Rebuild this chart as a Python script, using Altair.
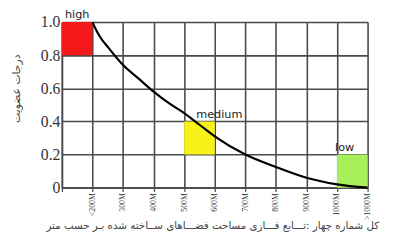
import json
import altair as alt
import pandas as pd

# membership curve (x in class units: 1 = <200M ... 10 = >1000M)
curve_x = [1.0, 1.1, 1.25, 1.5, 2.0, 2.5, 3.0, 3.5, 4.0, 4.5, 5.0, 6.0, 7.0, 8.0, 9.0, 10.0]
curve_y = [1.0, 0.96, 0.91, 0.85, 0.74, 0.66, 0.58, 0.51, 0.45, 0.38, 0.31, 0.20, 0.125, 0.06, 0.02, 0.0]

# coloured class boxes
box_names = ["high", "medium", "low"]
box_x1 = [0, 4, 9]
box_x2 = [1, 5, 10]
box_y1 = [0.8, 0.2, 0.0]
box_y2 = [1.0, 0.4, 0.2]
box_colors = ["#f41a1a", "#f8f21a", "#a8ef5c"]

# label anchors (data units)
label_x = [0.5, 5.15, 9.25]
label_y = [1.0, 0.4, 0.2]

x_tick_values = list(range(0, 11))
x_tick_labels = ["", "<200M", "300M", "400M", "500M", "600M", "700M", "800M", "900M", "1000M", ">1000M"]
y_tick_values = [0, 0.2, 0.4, 0.6, 0.8, 1.0]

y_title = "درجات عضویت"
caption = "کل شماره چهار :تـــابع فـــازی مساحت فضـــاهای ســاخته شده بـر حسب متر"

curve_df = pd.DataFrame({"x": curve_x, "y": curve_y})
box_df = pd.DataFrame({"name": box_names, "x1": box_x1, "x2": box_x2,
                       "y1": box_y1, "y2": box_y2, "color": box_colors})
lab_df = pd.DataFrame({"name": box_names, "x": label_x, "y": label_y})

xscale = alt.Scale(domain=[0, 10], nice=False, zero=False)
yscale = alt.Scale(domain=[0, 1], nice=False)

label_expr = json.dumps(x_tick_labels) + "[datum.value]"

grid_color = "#4a4a4a"

xaxis = alt.Axis(
    values=x_tick_values, labelExpr=label_expr, title=None,
    grid=True, gridColor=grid_color, gridWidth=1.6, gridOpacity=1,
    domainColor=grid_color, domainWidth=1.6,
    tickColor=grid_color, tickSize=4, tickWidth=1.2,
    labelAngle=270, labelFont="Liberation Serif", labelFontSize=8,
    labelColor="#333", labelPadding=1)
yaxis = alt.Axis(
    values=y_tick_values, title=None,
    labelExpr="datum.value == 0 ? '0' : format(datum.value, '.1f')",
    grid=True, gridColor=grid_color, gridWidth=1.6, gridOpacity=1,
    domainColor=grid_color, domainWidth=1.6, ticks=False,
    labelFont="Liberation Serif", labelFontSize=16, labelColor="#333",
    labelPadding=2)

boxes = alt.Chart(box_df).mark_rect(stroke=None).encode(
    x=alt.X("x1:Q", scale=xscale, axis=xaxis),
    x2="x2:Q",
    y=alt.Y("y1:Q", scale=yscale, axis=yaxis),
    y2="y2:Q",
    color=alt.Color("color:N", scale=None),
)

curve = alt.Chart(curve_df).mark_line(color="black", strokeWidth=2.2, interpolate="monotone").encode(
    x=alt.X("x:Q", scale=xscale, axis=xaxis),
    y=alt.Y("y:Q", scale=yscale, axis=yaxis),
)

labels = alt.Chart(lab_df).mark_text(font="DejaVu Sans", fontSize=11.5, color="#222",
                                     baseline="bottom", dy=-2).encode(
    x=alt.X("x:Q", scale=xscale, axis=xaxis),
    y=alt.Y("y:Q", scale=yscale, axis=yaxis),
    text="name:N",
)

title_mark = alt.Chart(pd.DataFrame({"t": [y_title]})).mark_text(
    font="DejaVu Sans", fontSize=11, color="#444", angle=270
).encode(x=alt.value(-46), y=alt.value(68), text="t:N")

caption_mark = alt.Chart(pd.DataFrame({"t": [caption]})).mark_text(
    font="DejaVu Sans", fontSize=10.5, color="#444", align="center", baseline="middle"
).encode(x=alt.value(154), y=alt.value(208), text="t:N")

chart = alt.layer(boxes, curve, labels, title_mark, caption_mark).properties(
    width=312, height=169,
    autosize=alt.AutoSizeParams(type="none"),
    padding={"left": 55, "top": 12, "right": 30, "bottom": 48},
).configure_view(stroke=grid_color, strokeWidth=1.6).configure(background="white")

chart.save("out.html", embed_options={"renderer": "svg", "actions": False})
